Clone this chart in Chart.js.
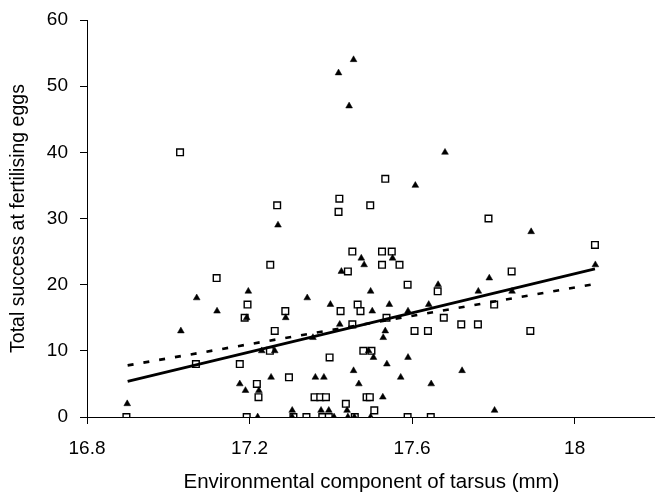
<!DOCTYPE html>
<html lang="en">

<head>
    <meta charset="UTF-8" />
    <title>Total success at fertilising eggs</title>
    <script src="https://cdn.jsdelivr.net/npm/chart.js"></script>
    <style>
        * {
            margin: 0;
            padding: 0;
            box-sizing: border-box;
        }

        body {
            background: #ffffff;
            overflow: hidden;
        }

        /* the original figure is cropped just short of the 18.2 end of the x axis */
        .frame {
            width: 655px;
            height: 495px;
            overflow: hidden;
        }

        .chart-container {
            width: 662px;
            height: 495px;
        }
    </style>
</head>

<body>
    <div class="frame">
        <div class="chart-container">
            <canvas id="tarsusChart"></canvas>
        </div>
    </div>

    <script>
        // filled triangles
        const triangleX = [17.419, 17.456, 17.445, 17.681, 17.608, 17.270, 17.893, 17.475, 17.552, 17.482,
            18.051, 17.426, 17.197, 17.070, 17.342, 17.498, 17.790, 17.664, 17.763, 17.846,
            17.399, 17.544, 17.641, 17.120, 17.193, 17.289, 17.502, 17.590, 17.031, 17.422,
            17.534, 17.356, 17.529, 17.230, 17.262, 17.493, 17.505, 17.590, 17.538, 17.456,
            17.723, 17.253, 17.362, 17.383, 17.572, 17.176, 17.469, 17.647, 17.190, 17.223,
            17.528, 16.899, 17.305, 17.376, 17.395, 17.440, 17.803, 17.220, 17.305, 17.408,
            17.442, 17.458, 17.498];
        const triangleY = [52, 54, 47, 40, 35, 29, 28, 24, 24, 23,
            23, 22, 19, 18, 18, 19, 21, 20, 19, 19,
            17, 17, 17, 16, 15, 15, 16, 16, 13, 14,
            13, 12, 12, 10, 10, 10, 9, 9, 8, 7,
            7, 6, 6, 6, 6, 5, 5, 5, 4, 4,
            3, 2, 1, 1, 1, 1, 1, 0, 0, 0,
            0, 0, 0];

        // open squares
        const squareX = [17.029, 17.421, 17.419, 17.268, 17.534, 17.497, 17.788, 17.251, 17.119, 17.195,
            17.442, 17.288, 17.424, 17.188, 17.262, 17.068, 17.176, 17.397, 17.250, 17.297,
            17.218, 17.222, 17.360, 17.374, 17.388, 17.437, 16.897, 17.193, 17.308, 17.340,
            17.379, 17.395, 17.459, 17.589, 17.646, 17.453, 17.526, 17.550, 17.526, 17.569,
            17.845, 17.589, 17.663, 17.466, 17.802, 17.473, 17.537, 17.678, 17.453, 17.721,
            17.762, 17.606, 17.639, 17.891, 17.480, 17.500, 17.488, 17.496, 17.507, 18.050];
        const squareY = [40, 33, 31, 32, 36, 32, 30, 23, 21, 17,
            22, 16, 16, 15, 13, 8, 8, 9, 10, 6,
            5, 3, 3, 3, 3, 2, 0, 0, 0, 0,
            0, 0, 0, 0, 0, 25, 25, 25, 23, 23,
            22, 20, 19, 17, 17, 16, 15, 15, 14, 14,
            14, 13, 13, 13, 10, 10, 3, 3, 1, 26];

        // fitted lines, ends
        const lineX = [16.9, 18.05];
        const solidLineY = [5.4, 22.4];
        const dashedLineY = [7.8, 20.1];

        const xTicks = [16.8, 17.2, 17.6, 18];
        const yTicks = [0, 10, 20, 30, 40, 50, 60];

        const toPoints = (xs, ys) => xs.map((x, i) => ({ x: x, y: ys[i] }));

        const fontFamily = "'Liberation Sans', Arial, sans-serif";

        const ctx = document.getElementById("tarsusChart").getContext("2d");
        const tarsusChart = new Chart(ctx, {
            type: "scatter",
            data: {
                datasets: [
                    {
                        type: "line",
                        data: toPoints(lineX, solidLineY),
                        borderColor: "#000000",
                        borderWidth: 2.8,
                        pointRadius: 0,
                        order: 0
                    },
                    {
                        type: "line",
                        data: toPoints(lineX, dashedLineY),
                        borderColor: "#000000",
                        borderWidth: 2.6,
                        borderDash: [6, 10],
                        pointRadius: 0,
                        order: 0
                    },
                    {
                        data: toPoints(squareX, squareY),
                        pointStyle: "rect",
                        pointRadius: 4.7,
                        borderWidth: 1.4,
                        borderColor: "#000000",
                        backgroundColor: "#ffffff",
                        order: 2
                    },
                    {
                        data: toPoints(triangleX, triangleY),
                        pointStyle: "triangle",
                        pointRadius: 3.9,
                        borderWidth: 0.5,
                        borderColor: "#000000",
                        backgroundColor: "#000000",
                        order: 1
                    }
                ]
            },
            options: {
                responsive: true,
                maintainAspectRatio: false,
                animation: false,
                layout: {
                    padding: { top: 20, right: 0, bottom: 0, left: 0 }
                },
                scales: {
                    x: {
                        type: "linear",
                        min: 16.8,
                        max: 18.2,
                        afterBuildTicks: (axis) => {
                            axis.ticks = xTicks.map(v => ({ value: v }));
                        },
                        afterFit: (scale) => {
                            scale.height = 78;
                            scale.paddingLeft = 0;
                            scale.paddingRight = 0;
                        },
                        grid: {
                            drawOnChartArea: false,
                            color: "#000000",
                            tickLength: 7
                        },
                        border: { color: "#000000", width: 1 },
                        ticks: {
                            color: "#000000",
                            font: { family: fontFamily, size: 19 },
                            padding: 13,
                            maxRotation: 0,
                            callback: (value) => String(value)
                        },
                        title: {
                            display: true,
                            text: "Environmental component of tarsus (mm)",
                            color: "#000000",
                            font: { family: fontFamily, size: 20.5 },
                            padding: { top: 0, bottom: 0 }
                        }
                    },
                    y: {
                        min: 0,
                        max: 60,
                        afterBuildTicks: (axis) => {
                            axis.ticks = yTicks.map(v => ({ value: v }));
                        },
                        afterFit: (scale) => {
                            scale.width = 87;
                            scale.paddingTop = 0;
                            scale.paddingBottom = 0;
                        },
                        grid: {
                            drawOnChartArea: false,
                            color: "#000000",
                            tickLength: 7
                        },
                        border: { color: "#000000", width: 1 },
                        ticks: {
                            color: "#000000",
                            font: { family: fontFamily, size: 19 },
                            padding: 12
                        },
                        title: {
                            display: true,
                            text: "Total success at fertilising eggs",
                            color: "#000000",
                            font: { family: fontFamily, size: 19.5 },
                            padding: { top: 7, bottom: 0 }
                        }
                    }
                },
                plugins: {
                    legend: { display: false },
                    tooltip: { enabled: false }
                }
            }
        });
    </script>

</body>

</html>
